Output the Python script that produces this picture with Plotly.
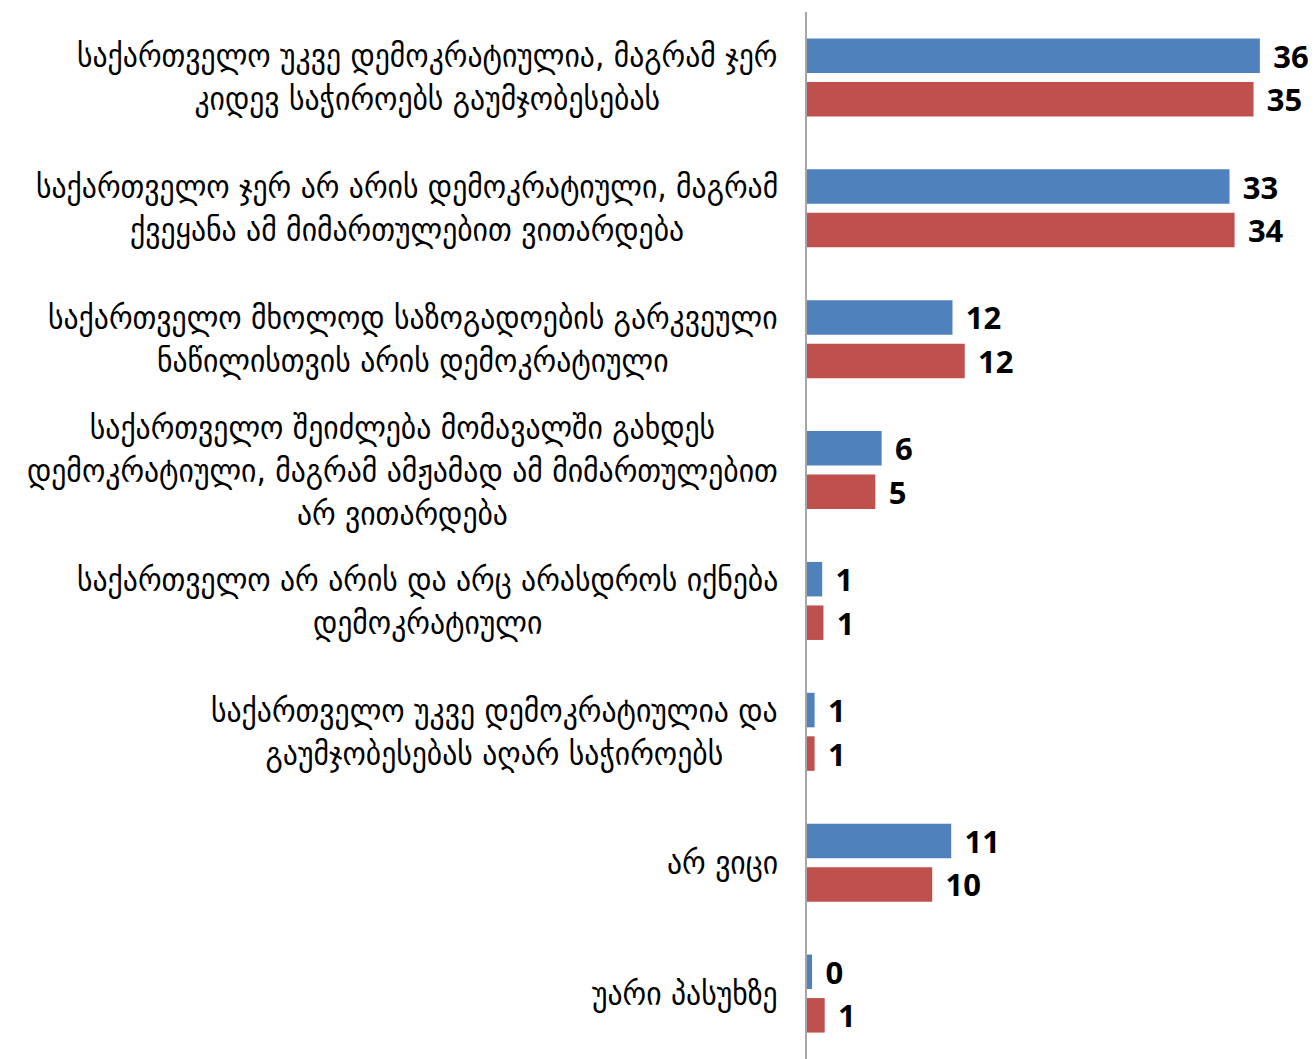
import plotly.graph_objects as go

categories = [
    "საქართველო უკვე დემოკრატიულია, მაგრამ ჯერ<br>კიდევ საჭიროებს გაუმჯობესებას",
    "საქართველო ჯერ არ არის დემოკრატიული, მაგრამ<br>ქვეყანა ამ მიმართულებით ვითარდება",
    "საქართველო მხოლოდ საზოგადოების გარკვეული<br>ნაწილისთვის არის დემოკრატიული",
    "საქართველო შეიძლება მომავალში გახდეს<br>დემოკრატიული, მაგრამ ამჟამად ამ მიმართულებით<br>არ ვითარდება",
    "საქართველო არ არის და არც არასდროს იქნება<br>დემოკრატიული",
    "საქართველო უკვე დემოკრატიულია და<br>გაუმჯობესებას აღარ საჭიროებს",
    "არ ვიცი",
    "უარი პასუხზე",
]
blue_values = [35.8, 33.4, 11.5, 5.9, 1.2, 0.6, 11.4, 0.4]
red_values = [35.3, 33.8, 12.47, 5.4, 1.3, 0.6, 9.9, 1.4]
blue_labels = ["36", "33", "12", "6", "1", "1", "11", "0"]
red_labels = ["35", "34", "12", "5", "1", "1", "10", "1"]

BLUE = "#4F81BD"
RED = "#C0504D"

fig = go.Figure()
for vals, labs, col in [(blue_values, blue_labels, BLUE), (red_values, red_labels, RED)]:
    fig.add_trace(go.Bar(
        y=categories, x=vals, orientation="h",
        marker=dict(color=col, line=dict(width=0)),
        text=labs, texttemplate="\u2004%{text}",
        textposition="outside", cliponaxis=False, constraintext="none",
        textfont=dict(family="Open Sans", size=31, color="#000000", weight=700),
        showlegend=False, hoverinfo="skip",
    ))

for cat in categories:
    fig.add_annotation(
        x=0, xref="paper", y=cat, yref="y",
        text=cat, showarrow=False, xanchor="right", yanchor="middle",
        align="center", xshift=-27,
        font=dict(family="DejaVu Sans Condensed, DejaVu Sans", size=33, color="#000000"),
    )

fig.update_layout(
    width=1308, height=1051,
    margin=dict(l=799, r=3, t=4, b=0),
    paper_bgcolor="white", plot_bgcolor="white",
    barmode="group", bargap=0.335, bargroupgap=0.207,
    xaxis=dict(range=[0, 40], visible=False, showgrid=False, zeroline=False),
    yaxis=dict(autorange="reversed", showticklabels=False, showgrid=False,
               zeroline=False, showline=True, linecolor="#A6A6A6", linewidth=2,
               ticks=""),
)

fig.write_html("out.html")
